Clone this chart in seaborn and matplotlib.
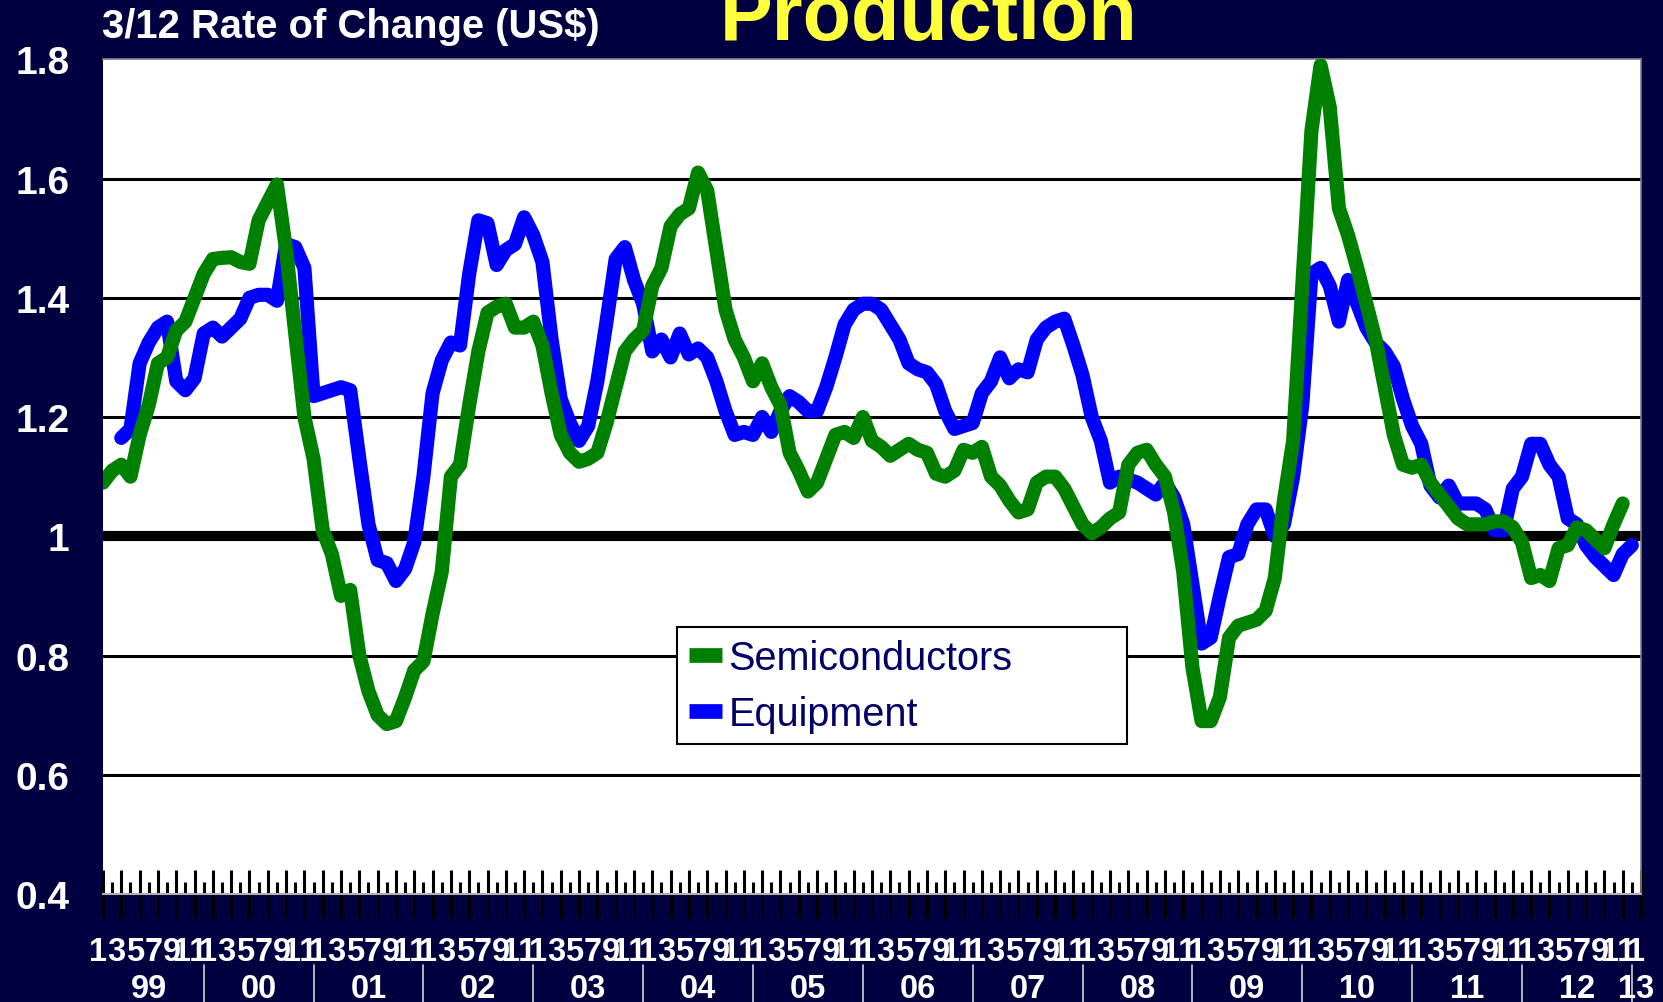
import numpy as np
import pandas as pd
import matplotlib
matplotlib.use("Agg")
import matplotlib.pyplot as plt
import matplotlib.transforms as mtransforms
from matplotlib.lines import Line2D
import seaborn as sns

# ---------------- data ----------------
months = pd.period_range("1999-01", "2013-01", freq="M")
month_tick_labels = ["1", "3", "5", "7", "9", "11"]
year_labels = ["99", "00", "01", "02", "03", "04", "05", "06", "07",
               "08", "09", "10", "11", "12", "13"]
y_tick_values = [0.4, 0.6, 0.8, 1.0, 1.2, 1.4, 1.6, 1.8]
series_names = ["Semiconductors", "Equipment"]

semiconductors = [
    1.09, 1.11, 1.12, 1.10, 1.17, 1.22, 1.29, 1.30, 1.345, 1.36, 1.40, 1.44,      # 1999
    1.465, 1.467, 1.468, 1.46, 1.457, 1.53, 1.56, 1.59, 1.48, 1.34, 1.20, 1.13,   # 2000
    1.01, 0.97, 0.90, 0.91, 0.80, 0.74, 0.70, 0.685, 0.69, 0.73, 0.775, 0.79,     # 2001
    0.87, 0.94, 1.10, 1.12, 1.22, 1.31, 1.375, 1.385, 1.39, 1.35, 1.35, 1.36,     # 2002
    1.32, 1.24, 1.17, 1.14, 1.125, 1.13, 1.14, 1.19, 1.25, 1.31, 1.33, 1.345,     # 2003
    1.42, 1.45, 1.52, 1.54, 1.55, 1.61, 1.58, 1.48, 1.38, 1.33, 1.30, 1.26,       # 2004
    1.29, 1.25, 1.22, 1.14, 1.11, 1.075, 1.09, 1.13, 1.17, 1.175, 1.165, 1.20,    # 2005
    1.16, 1.15, 1.135, 1.145, 1.155, 1.145, 1.14, 1.105, 1.10, 1.11, 1.145, 1.14, # 2006
    1.15, 1.10, 1.085, 1.06, 1.04, 1.045, 1.09, 1.10, 1.10, 1.08, 1.05, 1.02,     # 2007
    1.005, 1.015, 1.03, 1.04, 1.12, 1.14, 1.145, 1.12, 1.10, 1.04, 0.94, 0.78,    # 2008
    0.69, 0.69, 0.73, 0.83, 0.85, 0.855, 0.86, 0.875, 0.93, 1.06, 1.16, 1.42,     # 2009
    1.68, 1.79, 1.72, 1.55, 1.505, 1.45, 1.39, 1.33, 1.25, 1.17, 1.12, 1.115,     # 2010
    1.12, 1.09, 1.07, 1.05, 1.03, 1.02, 1.02, 1.02, 1.025, 1.025, 1.015, 0.99,    # 2011
    0.93, 0.935, 0.925, 0.98, 0.985, 1.015, 1.01, 0.995, 0.98, 1.02, 1.055, None, # 2012
    None,                                                                          # 2013
]

equipment = [
    None, None, 1.165, 1.18, 1.29, 1.325, 1.35, 1.36, 1.26, 1.245, 1.265, 1.34,   # 1999
    1.35, 1.335, 1.35, 1.365, 1.40, 1.405, 1.405, 1.395, 1.49, 1.485, 1.45, 1.235,# 2000
    1.24, 1.245, 1.25, 1.245, 1.13, 1.02, 0.96, 0.955, 0.925, 0.945, 0.99, 1.10,  # 2001
    1.24, 1.295, 1.325, 1.32, 1.44, 1.53, 1.525, 1.455, 1.48, 1.49, 1.535, 1.505, # 2002
    1.46, 1.33, 1.23, 1.19, 1.16, 1.185, 1.26, 1.36, 1.465, 1.485, 1.43, 1.39,    # 2003
    1.31, 1.33, 1.30, 1.34, 1.305, 1.315, 1.30, 1.26, 1.21, 1.17, 1.175, 1.17,    # 2004
    1.20, 1.175, 1.21, 1.235, 1.225, 1.21, 1.21, 1.25, 1.30, 1.355, 1.38, 1.39,   # 2005
    1.39, 1.38, 1.355, 1.33, 1.29, 1.28, 1.275, 1.255, 1.21, 1.18, 1.185, 1.19,   # 2006
    1.24, 1.26, 1.30, 1.265, 1.28, 1.275, 1.33, 1.35, 1.36, 1.365, 1.32, 1.27,    # 2007
    1.20, 1.16, 1.09, 1.10, 1.095, 1.09, 1.08, 1.07, 1.09, 1.065, 1.02, 0.92,     # 2008
    0.82, 0.83, 0.90, 0.965, 0.97, 1.02, 1.045, 1.045, 1.00, 1.02, 1.10, 1.22,    # 2009
    1.44, 1.45, 1.42, 1.36, 1.43, 1.39, 1.35, 1.325, 1.31, 1.285, 1.23, 1.185,    # 2010
    1.155, 1.085, 1.065, 1.085, 1.055, 1.055, 1.055, 1.045, 1.01, 1.01, 1.08, 1.10,  # 2011
    1.155, 1.155, 1.12, 1.10, 1.03, 1.02, 0.985, 0.965, 0.95, 0.935, 0.97, 0.985, # 2012
    None,                                                                          # 2013
]

# ---------------- style ----------------
NAVY = "#000040"
GREEN = "#008000"
BLUE = "#0000FF"
YELLOW = "#FFFF3C"
LEGEND_TEXT = "#000066"

sns.set_style("white")
plt.rcParams["font.family"] = ["Liberation Sans", "DejaVu Sans"]

W, H = 1663, 1003
fig = plt.figure(figsize=(W / 100, H / 100), dpi=100, facecolor=NAVY)
ax_left, ax_right, ax_top, ax_bottom = 103, 1641, 60.3, 895
ax = fig.add_axes([ax_left / W, (H - ax_bottom) / H,
                   (ax_right - ax_left) / W, (ax_bottom - ax_top) / H])
ax.set_facecolor("white")

df = pd.DataFrame({
    "idx": np.arange(len(months)),
    "Semiconductors": pd.array(semiconductors, dtype="Float64"),
    "Equipment": pd.array(equipment, dtype="Float64"),
}).astype(float)

# grid lines
for yv in [0.6, 0.8, 1.2, 1.4, 1.6]:
    ax.axhline(yv, color="black", lw=2.2, zorder=1)
ax.axhline(1.0, color="black", lw=7.3, zorder=2)

# series (green drawn on top)
eq = df.dropna(subset=["Equipment"])
sc = df.dropna(subset=["Semiconductors"])
sns.lineplot(data=eq, x="idx", y="Equipment", ax=ax, color=BLUE, linewidth=10.2,
             legend=False, zorder=4, solid_capstyle="round", solid_joinstyle="round")
sns.lineplot(data=sc, x="idx", y="Semiconductors", ax=ax, color=GREEN, linewidth=10.2,
             legend=False, zorder=5, solid_capstyle="round", solid_joinstyle="round")

n = len(months)
ax.set_xlim(0, n - 1)
ax.set_ylim(y_tick_values[0], y_tick_values[-1])
ax.set_xlabel("")
ax.set_ylabel("")

# y axis
ax.set_yticks(y_tick_values)
ax.set_yticklabels([f"{round(v, 1):g}" for v in y_tick_values],
                   fontsize=28, fontweight="bold", color="white")
ax.tick_params(axis="y", left=False, length=0, pad=24)

# x axis ticks: major every 2 months (crossing), minor every month (inside)
ax.set_xticks(np.arange(0, n, 2))
ax.set_xticks(np.arange(1, n, 2), minor=True)
ax.tick_params(axis="x", which="major", bottom=True, direction="inout",
               length=34, width=2.2, color="black", labelbottom=False)
ax.tick_params(axis="x", which="minor", bottom=True, direction="in",
               length=8.6, width=2.2, color="black", labelbottom=False)

# spines
ax.spines["left"].set_visible(False)
for s in ["top", "right"]:
    ax.spines[s].set_color("#808080")
    ax.spines[s].set_linewidth(1.2)
ax.spines["bottom"].set_color("#b0b0b0")
ax.spines["bottom"].set_linewidth(1.5)

# month & year labels (multi-level category axis)
trans_x = mtransforms.blended_transform_factory(ax.transData, fig.transFigure)
for i in range(0, n, 2):
    lbl = month_tick_labels[(months[i].month - 1) // 2]
    ax.text(i - 0.5, 1 - 961.5 / H, lbl, transform=trans_x, ha="center",
            va="baseline", color="white", fontsize=23.5, fontweight="bold",
            clip_on=False)

for k, yl in enumerate(year_labels):
    first = 12 * k
    last = min(12 * k + 11, n - 1)
    if last - first >= 11:
        xc = (first - 1 + last) / 2
    else:
        xc = first - 0.55
    ax.text(xc, 1 - 998 / H, yl, transform=trans_x, ha="center", va="baseline",
            color="white", fontsize=23.5, fontweight="bold", clip_on=False)

for k in range(len(year_labels) - 1):
    xd = 12 * k + 11
    ax.plot([xd, xd], [1 - 966 / H, 0], transform=trans_x, color="#d0d0d0",
            lw=1.2, clip_on=False)

# titles
fig.text(102 / W, 1 - 38.5 / H, "3/12 Rate of Change (US$)", color="white",
         fontsize=28.8, fontweight="bold", ha="left", va="baseline")
fig.text(929 / W, 1 - 40 / H, "Production", color=YELLOW, fontsize=57,
         fontweight="bold", ha="center", va="baseline")

# legend
handles = [Line2D([], [], color=GREEN, lw=10.6, solid_capstyle="butt"),
           Line2D([], [], color=BLUE, lw=10.6, solid_capstyle="butt")]
leg = ax.legend(handles, series_names, loc="upper left",
                bbox_to_anchor=(677.3 / W, 1 - 743.3 / H, 449.4 / W, 115 / H),
                bbox_transform=fig.transFigure, mode="expand", borderaxespad=0,
                fontsize=28.5, frameon=True, fancybox=False, framealpha=1,
                edgecolor="black", facecolor="white", borderpad=0.29,
                labelspacing=0.45, handlelength=0.83, handletextpad=0.17)
leg.get_frame().set_linewidth(1.5)
for t in leg.get_texts():
    t.set_color(LEGEND_TEXT)
leg.set_zorder(10)

fig.savefig("out.png", dpi=100, facecolor=NAVY)
